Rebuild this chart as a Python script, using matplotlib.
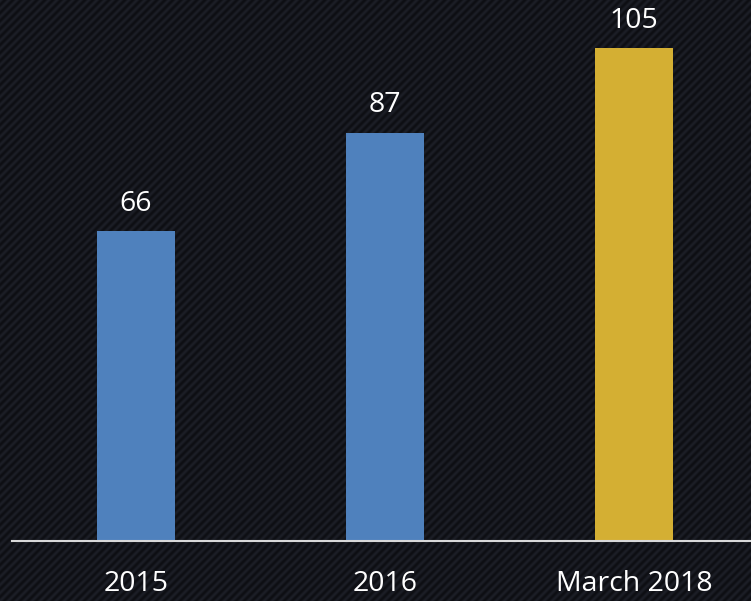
import numpy as np
import matplotlib
matplotlib.use("Agg")
import matplotlib.pyplot as plt

categories = ["2015", "2016", "March 2018"]
values = [66, 87, 105]
colors = ["#4f81bd", "#4f81bd", "#d4af33"]

W, H = 751, 601
fig = plt.figure(figsize=(W / 100, H / 100), dpi=100)

# striped dark background texture
yy, xx = np.mgrid[0:H, 0:W]
period = 8.0
phase = ((xx + yy) % period) / period
band = 0.5 + 0.5 * np.cos(2 * np.pi * phase)
light = np.array([0x1c, 0x1e, 0x26]) / 255.0
dark = np.array([0x0d, 0x0e, 0x13]) / 255.0
img = dark[None, None, :] + (light - dark)[None, None, :] * band[..., None]
fig.figimage(img, xo=0, yo=0, origin="upper", zorder=-10)

ax = fig.add_axes([11.5 / W, (H - 541) / H, 747 / W, 541 / H])
ax.set_zorder(5)
ax.patch.set_alpha(0)
x = np.arange(len(categories))
ax.bar(x, values, width=0.317, color=colors, zorder=2)
ax.set_xlim(-0.5, 2.5)
ax.set_ylim(0, 541 / 4.695)

for xi, v in zip(x, values):
    ax.annotate(str(v), (xi, v), xytext=(0, 14.5), textcoords="offset points",
                ha="center", va="baseline", color="white", fontsize=20.5,
                family="Open Sans", annotation_clip=False)

for s in ["top", "right", "left"]:
    ax.spines[s].set_visible(False)
ax.spines["bottom"].set_color("#d9d9d9")
ax.spines["bottom"].set_linewidth(1.5)
ax.set_yticks([])
ax.set_xticks(x)
ax.set_xticklabels(categories, color="white", fontsize=20.5, family="Open Sans")
ax.tick_params(axis="x", length=0, pad=21)

fig.savefig("out.png", dpi=100)
